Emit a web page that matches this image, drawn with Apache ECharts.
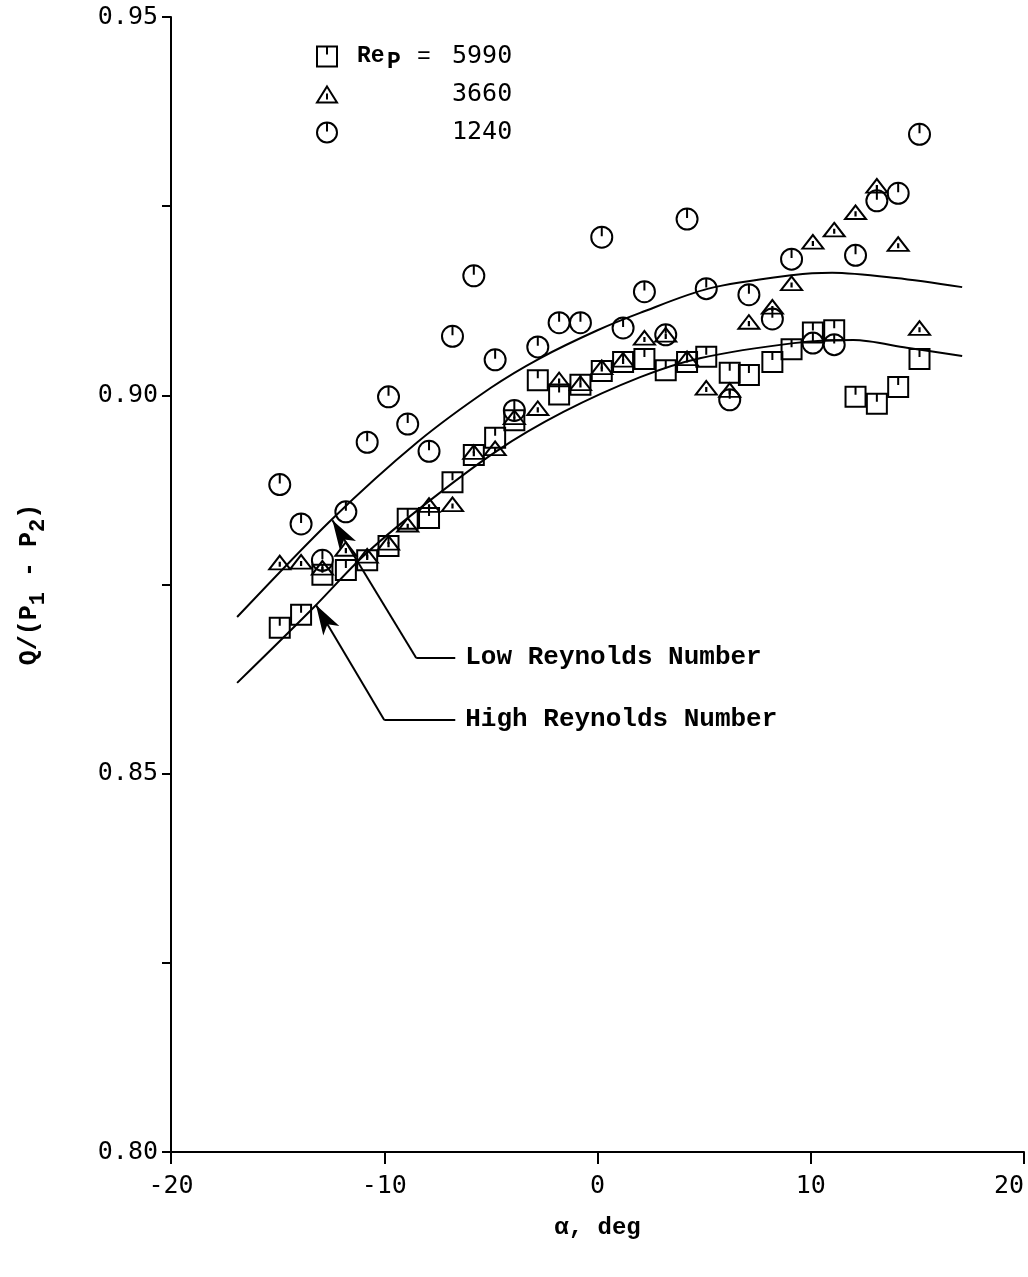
<!DOCTYPE html>
<html>
<head>
<meta charset="utf-8">
<title>Q/(P1 - P2) against alpha</title>
<script src="https://cdn.jsdelivr.net/npm/echarts@6/dist/echarts.min.js"></script>
<style>
html, body { margin: 0; padding: 0; background: #fff; }
#chart { width: 1028px; height: 1277px; }
</style>
</head>
<body>
<div id="chart"></div>
<script>
// angle of attack, deg (one column of symbols per angle)
var alpha = [-14.9, -13.9, -12.9, -11.8, -10.8, -9.8, -8.9, -7.9, -6.8, -5.8, -4.8, -3.9, -2.8, -1.8, -0.8,
    0.2, 1.2, 2.2, 3.2, 4.2, 5.1, 6.2, 7.1, 8.2, 9.1, 10.1, 11.1, 12.1, 13.1, 14.1, 15.1];

// Q/(P1 - P2) for each Reynolds number
var re5990 = [0.8693, 0.8710, 0.8763, 0.8769, 0.8782, 0.8801, 0.8837, 0.8838, 0.8885, 0.8921, 0.8944, 0.8967, 0.9020, 0.9001, 0.9014,
    0.9032, 0.9044, 0.9048, 0.9033, 0.9044, 0.9051, 0.9030, 0.9027, 0.9044, 0.9061, 0.9083, 0.9086, 0.8998, 0.8989, 0.9011, 0.9048];
var re3660 = [0.8779, 0.8780, 0.8772, 0.8797, 0.8788, 0.8805, 0.8829, 0.8855, 0.8856, 0.8925, 0.8930, 0.8971, 0.8983, 0.9021, 0.9016,
    0.9037, 0.9047, 0.9076, 0.9080, 0.9049, 0.9010, 0.9007, 0.9097, 0.9117, 0.9148, 0.9203, 0.9219, 0.9242, 0.9277, 0.9200, 0.9089];
var re1240 = [0.8882, 0.8830, 0.8782, 0.8846, 0.8938, 0.8998, 0.8962, 0.8926, 0.9078, 0.9158, 0.9047, 0.8980, 0.9064, 0.9096, 0.9096,
    0.9209, 0.9089, 0.9137, 0.9080, 0.9233, 0.9141, 0.8994, 0.9133, 0.9101, 0.9180, 0.9069, 0.9067, 0.9185, 0.9257, 0.9267, 0.9345];

// faired curves
var lowCurveX = [-16.9, -12.5, -8.45, -5.0, -2.7, 0.0, 2.0, 5.2, 9.2, 11.0, 14.0, 17.1];
var lowCurveY = [0.8707, 0.8835, 0.8938, 0.9010, 0.9049, 0.9086, 0.9109, 0.9141, 0.9159, 0.9162, 0.9155, 0.9143];
var highCurveX = [-16.9, -13.3, -11.0, -8.45, -4.8, -1.6, 2.0, 4.8, 9.2, 12.0, 14.5, 17.1];
var highCurveY = [0.8620, 0.8720, 0.8787, 0.8848, 0.8925, 0.8978, 0.9024, 0.9049, 0.9069, 0.9073, 0.9063, 0.9052];

// leader lines: elbow -> arrow tip, elbow -> text
var lowArrow = [[-8.5, 0.8653], [-12.43, 0.8835]];
var lowLeader = [[-8.5, 0.8653], [-6.67, 0.8653]];
var highArrow = [[-10.0, 0.8571], [-13.2, 0.8723]];
var highLeader = [[-10.0, 0.8571], [-6.67, 0.8571]];

var seriesNames = ['5990', '3660', '1240'];
var legendTops = [39, 77, 115];
var yLabelTicks = [0.80, 0.85, 0.90, 0.95];
var xTickLabels = ['-20', '-10', '0', '10', '20'];

var SQUARE = 'path://M0,0L20,0L20,20L0,20Z M10,0L10,8';
var TRIANGLE = 'path://M10,0L20,16L0,16Z M10,7L10,13';
var CIRCLE = 'path://M0,10A10,10,0,0,1,20,10A10,10,0,0,1,0,10Z M10,0L10,9';

var MONO = 'Liberation Mono';
var NUM = 'DejaVu Sans Mono';

function pairs(xs, ys) {
    return xs.map(function (x, i) { return [x, ys[i]]; });
}

function pointSeries(name, values, symbol, size) {
    return {
        name: name,
        type: 'scatter',
        data: pairs(alpha, values),
        symbol: symbol,
        symbolSize: size,
        symbolKeepAspect: true,
        itemStyle: { color: 'rgba(0,0,0,0)', borderColor: '#000', borderWidth: 2, opacity: 1 },
        z: 3
    };
}

function leader(arrow, lead, text) {
    return {
        silent: true,
        animation: false,
        lineStyle: { color: '#000', width: 2, type: 'solid' },
        label: {
            show: true,
            position: 'end',
            distance: 10,
            formatter: '{b}',
            color: '#000',
            fontFamily: MONO,
            fontWeight: 'bold',
            fontSize: 26
        },
        data: [
            [{ coord: arrow[0], symbol: 'none' },
             { coord: arrow[1], symbol: 'arrow', symbolSize: [14, 30] }],
            [{ coord: lead[0], symbol: 'none', name: text },
             { coord: lead[1], symbol: 'none' }]
        ]
    };
}

function curveSeries(name, xs, ys, mark) {
    return {
        name: name,
        type: 'line',
        data: pairs(xs, ys),
        smooth: 0.3,
        showSymbol: false,
        silent: true,
        lineStyle: { color: '#000', width: 2 },
        markLine: mark,
        z: 2
    };
}

// one legend block per row so the rows sit where the original puts them
function legendRow(i) {
    return {
        data: [seriesNames[i]],
        left: 311,
        top: legendTops[i],
        itemWidth: 20,
        itemHeight: 20,
        selectedMode: false,
        formatter: function (name) {
            if (name === seriesNames[0]) {
                return '{sp|}{re|Re}{p|P}{eq|=}{v|' + name + '}';
            }
            return '{gap|}{v|' + name + '}';
        },
        textStyle: {
            color: '#000',
            rich: {
                sp: { width: 15 },
                gap: { width: 110 },
                re: { width: 30, fontFamily: MONO, fontWeight: 'bold', fontSize: 23, color: '#000' },
                p: { width: 30, fontFamily: MONO, fontWeight: 'bold', fontSize: 23, color: '#000', padding: [12, 0, 0, 0] },
                eq: { width: 35, fontFamily: MONO, fontSize: 23, color: '#000' },
                v: { fontFamily: NUM, fontSize: 25, color: '#000' }
            }
        }
    };
}

var chart = echarts.init(document.getElementById('chart'));
chart.setOption({
    animation: false,
    backgroundColor: '#fff',
    grid: { left: 171, right: 4, top: 17, bottom: 125, containLabel: false, outerBoundsMode: 'none' },
    legend: [legendRow(0), legendRow(1), legendRow(2)],
    xAxis: {
        type: 'value',
        min: -20,
        max: 20,
        interval: 10,
        name: 'α, deg',
        nameLocation: 'middle',
        nameGap: 64,
        nameTextStyle: { fontFamily: MONO, fontWeight: 'bold', fontSize: 24, color: '#000' },
        axisLine: { onZero: false, lineStyle: { color: '#000', width: 2 } },
        axisTick: { inside: false, length: 12, lineStyle: { color: '#000', width: 2 } },
        axisLabel: {
            margin: 22,
            fontFamily: NUM,
            fontSize: 25,
            color: '#000',
            alignMaxLabel: 'right',
            formatter: function (v) { return xTickLabels[Math.round((v + 20) / 10)]; }
        },
        splitLine: { show: false }
    },
    yAxis: {
        type: 'value',
        min: 0.8,
        max: 0.95,
        interval: 0.025,
        name: '{t|Q/(P}{s|1}{t| - P}{s|2}{t|)}',
        nameLocation: 'middle',
        nameRotate: 90,
        nameGap: 122,
        nameTextStyle: {
            rich: {
                t: { fontFamily: MONO, fontWeight: 'bold', fontSize: 25, color: '#000' },
                s: { fontFamily: MONO, fontWeight: 'bold', fontSize: 22, color: '#000', padding: [16, 0, 0, 0] }
            }
        },
        axisLine: { onZero: false, lineStyle: { color: '#000', width: 2 } },
        axisTick: { inside: false, length: 9, lineStyle: { color: '#000', width: 2 } },
        axisLabel: {
            margin: 13,
            fontFamily: NUM,
            fontSize: 25,
            color: '#000',
            formatter: function (v) {
                for (var i = 0; i < yLabelTicks.length; i++) {
                    if (Math.abs(v - yLabelTicks[i]) < 1e-6) return yLabelTicks[i].toFixed(2);
                }
                return '';
            }
        },
        splitLine: { show: false }
    },
    series: [
        curveSeries('low', lowCurveX, lowCurveY, leader(lowArrow, lowLeader, 'Low Reynolds Number')),
        curveSeries('high', highCurveX, highCurveY, leader(highArrow, highLeader, 'High Reynolds Number')),
        pointSeries(seriesNames[0], re5990, SQUARE, [20, 20]),
        pointSeries(seriesNames[1], re3660, TRIANGLE, [21, 17]),
        pointSeries(seriesNames[2], re1240, CIRCLE, [21, 21])
    ]
});
</script>
</body>
</html>
